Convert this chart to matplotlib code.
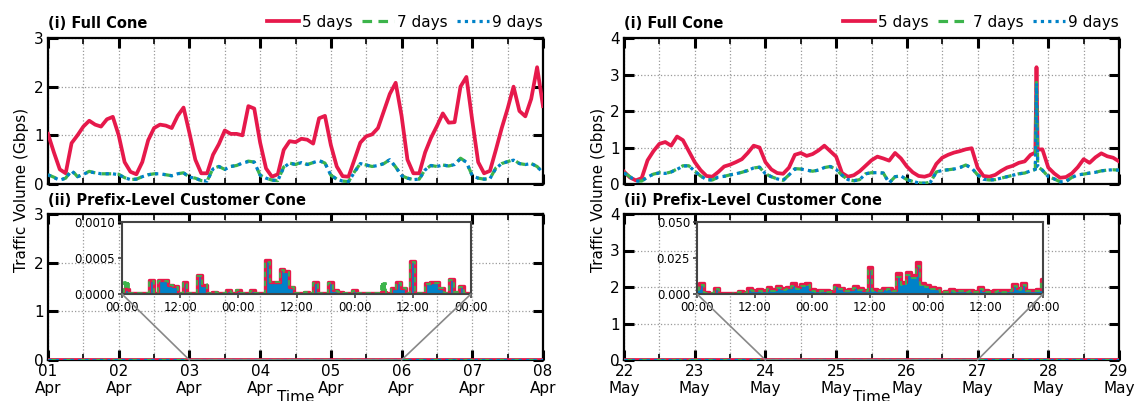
import matplotlib.pyplot as plt
from matplotlib.patches import ConnectionPatch
from matplotlib.ticker import FormatStrFormatter

RED = '#e6194b'
GREEN = '#3cb44b'
BLUE = '#0082c8'

series_names = ['5 days', '7 days', '9 days']
apr_day_labels = ['01\nApr', '02\nApr', '03\nApr', '04\nApr', '05\nApr', '06\nApr', '07\nApr', '08\nApr']
may_day_labels = ['22\nMay', '23\nMay', '24\nMay', '25\nMay', '26\nMay', '27\nMay', '28\nMay', '29\nMay']
zoom_tick_labels = ['00:00', '12:00', '00:00', '12:00', '00:00', '12:00', '00:00']

# (i) full cone, Gbps, read every 2 hours off the picture
apr_hours = list(range(0, 169, 2))
apr_full_5d = [1.03, 0.65, 0.30, 0.22, 0.84, 1.00, 1.18, 1.30, 1.22, 1.18, 1.33, 1.38,
               1.00, 0.45, 0.25, 0.20, 0.45, 0.90, 1.15, 1.22, 1.20, 1.15, 1.40, 1.57,
               1.05, 0.50, 0.22, 0.22, 0.60, 0.82, 1.10, 1.03, 1.03, 1.00, 1.60, 1.55,
               0.85, 0.32, 0.15, 0.20, 0.70, 0.88, 0.86, 0.93, 0.91, 0.83, 1.35, 1.40,
               0.80, 0.36, 0.16, 0.15, 0.50, 0.85, 0.98, 1.02, 1.15, 1.50, 1.85, 2.08,
               1.40, 0.50, 0.22, 0.22, 0.65, 0.95, 1.19, 1.45, 1.26, 1.27, 2.00, 2.20,
               1.30, 0.45, 0.22, 0.27, 0.70, 1.15, 1.55, 2.00, 1.50, 1.39, 1.75, 2.40,
               1.60]
apr_full_7d = [0.19, 0.14, 0.08, 0.12, 0.29, 0.15, 0.20, 0.26, 0.23, 0.21, 0.21, 0.21,
               0.20, 0.13, 0.09, 0.10, 0.15, 0.19, 0.21, 0.21, 0.19, 0.17, 0.21, 0.23,
               0.14, 0.12, 0.07, 0.06, 0.32, 0.36, 0.30, 0.36, 0.38, 0.43, 0.47, 0.45,
               0.18, 0.12, 0.08, 0.07, 0.35, 0.43, 0.40, 0.45, 0.40, 0.44, 0.48, 0.43,
               0.18, 0.10, 0.06, 0.05, 0.25, 0.42, 0.39, 0.36, 0.38, 0.42, 0.50, 0.35,
               0.17, 0.12, 0.09, 0.10, 0.30, 0.38, 0.36, 0.39, 0.37, 0.40, 0.53, 0.45,
               0.17, 0.12, 0.10, 0.11, 0.33, 0.42, 0.46, 0.50, 0.42, 0.40, 0.42, 0.36,
               0.23]
apr_full_9d = [0.19, 0.13, 0.08, 0.12, 0.27, 0.15, 0.20, 0.25, 0.23, 0.21, 0.21, 0.21,
               0.19, 0.13, 0.09, 0.10, 0.15, 0.19, 0.21, 0.21, 0.19, 0.17, 0.21, 0.23,
               0.14, 0.12, 0.07, 0.06, 0.31, 0.36, 0.30, 0.36, 0.38, 0.43, 0.46, 0.45,
               0.18, 0.12, 0.08, 0.07, 0.34, 0.43, 0.40, 0.44, 0.40, 0.44, 0.48, 0.43,
               0.18, 0.10, 0.06, 0.05, 0.24, 0.42, 0.39, 0.36, 0.38, 0.42, 0.50, 0.35,
               0.17, 0.12, 0.09, 0.10, 0.29, 0.38, 0.36, 0.39, 0.37, 0.40, 0.52, 0.45,
               0.17, 0.12, 0.10, 0.11, 0.32, 0.42, 0.46, 0.49, 0.42, 0.40, 0.42, 0.36,
               0.23]

may_hours = list(range(0, 140, 2)) + [139.6, 140, 140.4] + list(range(142, 169, 2))
may_full_5d = [0.34, 0.18, 0.10, 0.16, 0.65, 0.90, 1.10, 1.15, 1.05, 1.30, 1.20, 0.90,
               0.60, 0.38, 0.22, 0.20, 0.33, 0.48, 0.53, 0.60, 0.68, 0.85, 1.05, 1.00,
               0.60, 0.40, 0.30, 0.28, 0.45, 0.80, 0.85, 0.77, 0.82, 0.92, 1.05, 0.90,
               0.75, 0.30, 0.20, 0.24, 0.35, 0.50, 0.65, 0.75, 0.70, 0.64, 0.85, 0.70,
               0.48, 0.32, 0.22, 0.20, 0.25, 0.55, 0.72, 0.80, 0.86, 0.90, 0.95, 0.98,
               0.45, 0.22, 0.20, 0.25, 0.36, 0.45, 0.50, 0.58, 0.62, 0.80,
               0.86, 3.20, 0.94,
               0.95, 0.45, 0.29, 0.17, 0.19, 0.29, 0.46, 0.68, 0.58, 0.73, 0.84, 0.76, 0.72, 0.62]
may_full_7d = [0.31, 0.20, 0.08, 0.08, 0.20, 0.27, 0.31, 0.29, 0.33, 0.41, 0.50, 0.50,
               0.35, 0.22, 0.12, 0.11, 0.19, 0.21, 0.25, 0.28, 0.32, 0.37, 0.44, 0.46,
               0.28, 0.20, 0.14, 0.10, 0.25, 0.42, 0.41, 0.38, 0.35, 0.38, 0.45, 0.48,
               0.40, 0.24, 0.12, 0.09, 0.12, 0.28, 0.31, 0.31, 0.30, 0.03, 0.20, 0.22,
               0.12, 0.07, 0.03, 0.02, 0.05, 0.33, 0.37, 0.39, 0.41, 0.45, 0.52, 0.44,
               0.25, 0.13, 0.11, 0.12, 0.16, 0.20, 0.24, 0.28, 0.30, 0.36,
               0.40, 2.78, 0.48,
               0.38, 0.20, 0.14, 0.06, 0.07, 0.18, 0.25, 0.27, 0.30, 0.32, 0.36, 0.38, 0.39, 0.38]
may_full_9d = [0.30, 0.20, 0.08, 0.08, 0.19, 0.27, 0.30, 0.29, 0.33, 0.40, 0.49, 0.50,
               0.35, 0.22, 0.12, 0.11, 0.19, 0.21, 0.25, 0.28, 0.32, 0.37, 0.44, 0.46,
               0.28, 0.20, 0.14, 0.10, 0.25, 0.41, 0.41, 0.38, 0.35, 0.38, 0.45, 0.48,
               0.40, 0.24, 0.12, 0.09, 0.12, 0.28, 0.31, 0.31, 0.30, 0.03, 0.20, 0.22,
               0.12, 0.07, 0.03, 0.02, 0.05, 0.33, 0.37, 0.39, 0.41, 0.45, 0.52, 0.44,
               0.25, 0.13, 0.11, 0.12, 0.16, 0.20, 0.24, 0.28, 0.30, 0.36,
               0.40, 2.76, 0.48,
               0.38, 0.20, 0.14, 0.06, 0.07, 0.18, 0.25, 0.27, 0.30, 0.32, 0.36, 0.38, 0.39, 0.38]

# (ii) prefix-level cone at week scale: flat on zero in both panels
prefix_week = [0, 0, 0, 0, 0, 0, 0, 0, 0, 0, 0, 0, 0, 0, 0, 0, 0,
               0, 0, 0, 0, 0, 0, 0, 0, 0, 0, 0, 0, 0, 0, 0, 0, 0,
               0, 0, 0, 0, 0, 0, 0, 0, 0, 0, 0, 0, 0, 0, 0, 0, 0,
               0, 0, 0, 0, 0, 0, 0, 0, 0, 0, 0, 0, 0, 0, 0, 0, 0,
               0, 0, 0, 0, 0, 0, 0, 0, 0, 0, 0, 0, 0, 0, 0, 0, 0]

# zoomed window: 3 days in hourly steps (hours since start of week)
zoom_hours = list(range(48, 121))
# April, in units of 1e-4 Gbps
apr_zoom_5d = [0.3, 0.7, 0.2, 0.2, 0.1, 0.2, 1.9, 0.2, 1.9, 1.9, 1.2, 1.1, 0.2, 1.6, 0.2, 0.2, 2.7, 1.2, 0.2, 0.3, 0.2, 0.2, 0.5, 0.2,
               0.6, 0.2, 0.2, 0.5, 0.2, 0.2, 4.7, 1.7, 1.7, 3.5, 3.2, 1.0, 0.2, 0.2, 0.3, 0.2, 1.6, 0.2, 0.2, 1.6, 0.5, 0.3, 0.2, 0.2,
               0.5, 0.2, 0.2, 0.2, 0.2, 0.2, 0.3, 0.2, 0.8, 1.6, 0.9, 0.2, 4.6, 0.2, 0.2, 1.5, 1.6, 1.6, 0.9, 0.2, 2.1, 0.3, 1.1, 0.2,
               0.2]
apr_zoom_7d = [0.3, 1.6, 0.2, 0.2, 0.1, 0.2, 1.8, 0.2, 1.8, 1.8, 1.2, 1.0, 0.2, 1.5, 0.2, 0.2, 2.5, 1.4, 0.2, 0.3, 0.2, 0.2, 0.4, 0.2,
               0.5, 0.2, 0.2, 0.4, 0.2, 0.2, 4.5, 1.6, 1.6, 3.3, 3.0, 1.0, 0.2, 0.2, 0.3, 0.2, 1.5, 0.2, 0.2, 1.5, 0.4, 0.3, 0.2, 0.2,
               0.4, 0.2, 0.2, 0.2, 0.2, 0.2, 1.5, 0.2, 0.7, 1.5, 0.8, 0.2, 4.4, 0.2, 0.2, 1.4, 1.5, 1.5, 0.8, 0.2, 2.0, 0.3, 1.0, 0.2,
               0.2]
apr_zoom_9d = [0.3, 0.5, 0.2, 0.2, 0.1, 0.2, 1.8, 0.2, 1.8, 1.8, 1.1, 1.0, 0.2, 1.5, 0.2, 0.2, 2.5, 1.1, 0.2, 0.3, 0.2, 0.2, 0.4, 0.2,
               0.5, 0.2, 0.2, 0.4, 0.2, 0.2, 4.5, 1.6, 1.6, 3.3, 3.0, 0.9, 0.2, 0.2, 0.3, 0.2, 1.5, 0.2, 0.2, 1.5, 0.4, 0.3, 0.2, 0.2,
               0.4, 0.2, 0.2, 0.2, 0.2, 0.2, 0.2, 0.2, 0.7, 1.5, 0.8, 0.2, 4.4, 0.2, 0.2, 1.4, 1.5, 1.5, 0.8, 0.2, 2.0, 0.3, 1.0, 0.2,
               0.2]
# May, in units of 1e-3 Gbps
may_zoom_5d = [4.0, 7.4, 1.2, 0.8, 4.4, 0.6, 0.5, 0.5, 1.0, 2.1, 1.5, 4.4, 2.8, 3.5, 2.5, 4.9, 3.5, 5.8, 4.0, 5.1, 7.4, 5.0, 7.2, 7.4,
               3.5, 2.5, 2.8, 2.5, 2.1, 6.3, 4.4, 3.0, 3.5, 5.8, 3.9, 3.0, 18.5, 3.5, 3.0, 3.9, 4.4, 3.0, 14.4, 8.6, 15.5, 13.2, 22.0, 7.4,
               6.3, 5.1, 4.0, 1.2, 2.0, 3.5, 2.5, 2.8, 2.5, 2.8, 2.0, 5.1, 2.5, 2.1, 2.5, 2.8, 2.5, 2.8, 6.9, 4.0, 7.9, 3.0, 2.8, 3.5,
               10.2]
may_zoom_7d = [2.8, 6.0, 0.6, 0.4, 3.2, 0.3, 0.3, 0.3, 0.5, 1.2, 0.8, 3.0, 1.8, 2.4, 1.6, 3.6, 2.4, 4.4, 2.8, 3.8, 5.8, 3.8, 5.8, 6.0,
               2.4, 1.6, 1.8, 1.6, 1.2, 5.0, 3.2, 2.0, 2.4, 4.4, 2.8, 2.0, 16.5, 2.4, 2.0, 2.8, 3.2, 2.0, 12.0, 6.5, 13.0, 11.0, 19.5, 6.0,
               5.0, 3.8, 2.8, 0.6, 1.2, 2.4, 1.6, 1.8, 1.6, 1.8, 1.2, 3.8, 1.6, 1.2, 1.6, 1.8, 1.6, 1.8, 5.4, 2.8, 6.4, 2.0, 1.8, 2.4,
               8.5]
may_zoom_9d = [2.7, 5.9, 0.6, 0.4, 3.1, 0.3, 0.3, 0.3, 0.5, 1.2, 0.8, 2.9, 1.8, 2.3, 1.6, 3.5, 2.3, 4.3, 2.7, 3.7, 5.7, 3.7, 5.7, 5.9,
               2.3, 1.6, 1.8, 1.6, 1.2, 4.9, 3.1, 2.0, 2.3, 4.3, 2.7, 2.0, 16.2, 2.3, 2.0, 2.7, 3.1, 2.0, 11.8, 6.4, 12.8, 10.8, 19.2, 5.9,
               4.9, 3.7, 2.7, 0.6, 1.2, 2.3, 1.6, 1.8, 1.6, 1.8, 1.2, 3.7, 1.6, 1.2, 1.6, 1.8, 1.6, 1.8, 5.3, 2.7, 6.3, 2.0, 1.8, 2.3,
               8.4]

W, H = 1137, 401
fig = plt.figure(figsize=(W / 100, H / 100), dpi=100)


def px_axes(x0, y0, x1, y1):
    # rectangle given in pixels from top-left corner of the figure
    return fig.add_axes([x0 / W, 1 - y1 / H, (x1 - x0) / W, (y1 - y0) / H])


def draw_lines(ax, hours, s5, s7, s9):
    ax.plot(hours, s5, color=RED, lw=2.7, label=series_names[0], zorder=3)
    ax.plot(hours, s7, color=GREEN, lw=2.3, dashes=(3, 2), label=series_names[1], zorder=4)
    ax.plot(hours, s9, color=BLUE, lw=2.3, dashes=(1, 1.3), label=series_names[2], zorder=5)


def style_main(ax, ymax, labels):
    ax.set_xlim(0, 168)
    ax.set_ylim(0, ymax)
    ax.set_xticks(range(0, 169, 24))
    ax.set_xticks(range(12, 169, 24), minor=True)
    ax.set_yticks(range(0, ymax + 1))
    ax.grid(True, which='both', axis='x', ls=':', color='#9a9a9a', lw=0.9)
    ax.grid(True, which='major', axis='y', ls=':', color='#9a9a9a', lw=0.9)
    ax.tick_params(which='major', direction='in', length=7, width=2.2, top=True, right=True,
                   labelsize=11, pad=3)
    ax.tick_params(which='minor', direction='in', length=4, width=1.2, top=True, right=True)
    for sp in ax.spines.values():
        sp.set_linewidth(1.6)
    if labels is None:
        ax.set_xticklabels([])
    else:
        ax.set_xticklabels(labels, linespacing=1.15)


def draw_zoom(ax, inset, s5, s7, s9, unit, fmt, top):
    v5 = [v * unit for v in s5]
    v7 = [v * unit for v in s7]
    v9 = [v * unit for v in s9]
    inset.fill_between(zoom_hours, v5, step='mid', color=RED, lw=0)
    inset.step(zoom_hours, v5, where='mid', color=RED, lw=2.4)
    inset.fill_between(zoom_hours, v7, step='mid', color=GREEN, lw=0)
    inset.fill_between(zoom_hours, v9, step='mid', color=BLUE, lw=0)
    inset.step(zoom_hours, v7, where='mid', color=GREEN, lw=1.3, dashes=(3, 2))
    inset.set_xlim(zoom_hours[0], zoom_hours[-1])
    inset.set_ylim(0, top)
    inset.set_xticks(range(zoom_hours[0], zoom_hours[-1] + 1, 12))
    inset.set_xticklabels(zoom_tick_labels)
    inset.set_yticks([0, top / 2, top])
    inset.yaxis.set_major_formatter(FormatStrFormatter(fmt))
    inset.tick_params(direction='out', length=3, width=1.2, labelsize=8.5, pad=2, color='#444444')
    for sp in inset.spines.values():
        sp.set_linewidth(1.5)
        sp.set_color('#444444')
    # marker of the zoomed span on the main axes, and connector lines
    ax.plot([zoom_hours[0], zoom_hours[-1]], [0, 0], color='#888888', lw=1.2, zorder=6)
    for xa, xb in [(0, zoom_hours[0]), (1, zoom_hours[-1])]:
        con = ConnectionPatch(xyA=(xa, 0), coordsA=inset.transAxes, xyB=(xb, 0),
                              coordsB=ax.transData, color='#888888', lw=1.2)
        fig.add_artist(con)


panels = [
    dict(x0=48, x1=543, ymax=3, days=apr_day_labels, hours=apr_hours,
         full=(apr_full_5d, apr_full_7d, apr_full_9d),
         zoom=(apr_zoom_5d, apr_zoom_7d, apr_zoom_9d), unit=1e-4, fmt='%.4f', top=0.001,
         inset=(122, 471), ylab_x=22),
    dict(x0=624, x1=1119, ymax=4, days=may_day_labels, hours=may_hours,
         full=(may_full_5d, may_full_7d, may_full_9d),
         zoom=(may_zoom_5d, may_zoom_7d, may_zoom_9d), unit=1e-3, fmt='%.3f', top=0.05,
         inset=(697, 1043), ylab_x=598),
]

for p in panels:
    ax_top = px_axes(p['x0'], 38, p['x1'], 184)
    ax_bot = px_axes(p['x0'], 214, p['x1'], 360)

    draw_lines(ax_top, p['hours'], *p['full'])
    style_main(ax_top, p['ymax'], None)
    ax_top.text(0, 1.045, '(i) Full Cone', transform=ax_top.transAxes, fontsize=10.5,
                fontweight='bold', va='bottom', ha='left')
    ax_top.legend(loc='lower right', bbox_to_anchor=(1.005, 1.035), ncol=3, frameon=False,
                  fontsize=11, handlelength=2.1, handletextpad=0.2, columnspacing=0.6,
                  borderaxespad=0, borderpad=0.2)

    draw_lines(ax_bot, apr_hours, prefix_week, prefix_week, prefix_week)
    style_main(ax_bot, p['ymax'], p['days'])
    ax_bot.text(0, 1.04, '(ii) Prefix-Level Customer Cone', transform=ax_bot.transAxes,
                fontsize=10.5, fontweight='bold', va='bottom', ha='left')

    inset = px_axes(p['inset'][0], 222, p['inset'][1], 294)
    draw_zoom(ax_bot, inset, *p['zoom'], p['unit'], p['fmt'], p['top'])

    fig.text(p['ylab_x'] / W, 1 - 190 / H, 'Traffic Volume (Gbps)', rotation=90,
             ha='center', va='center', fontsize=11)
    fig.text((p['x0'] + p['x1']) / 2 / W, 1 - 397 / H, 'Time', ha='center', va='center',
             fontsize=11)

fig.savefig('out.png', dpi=100)
